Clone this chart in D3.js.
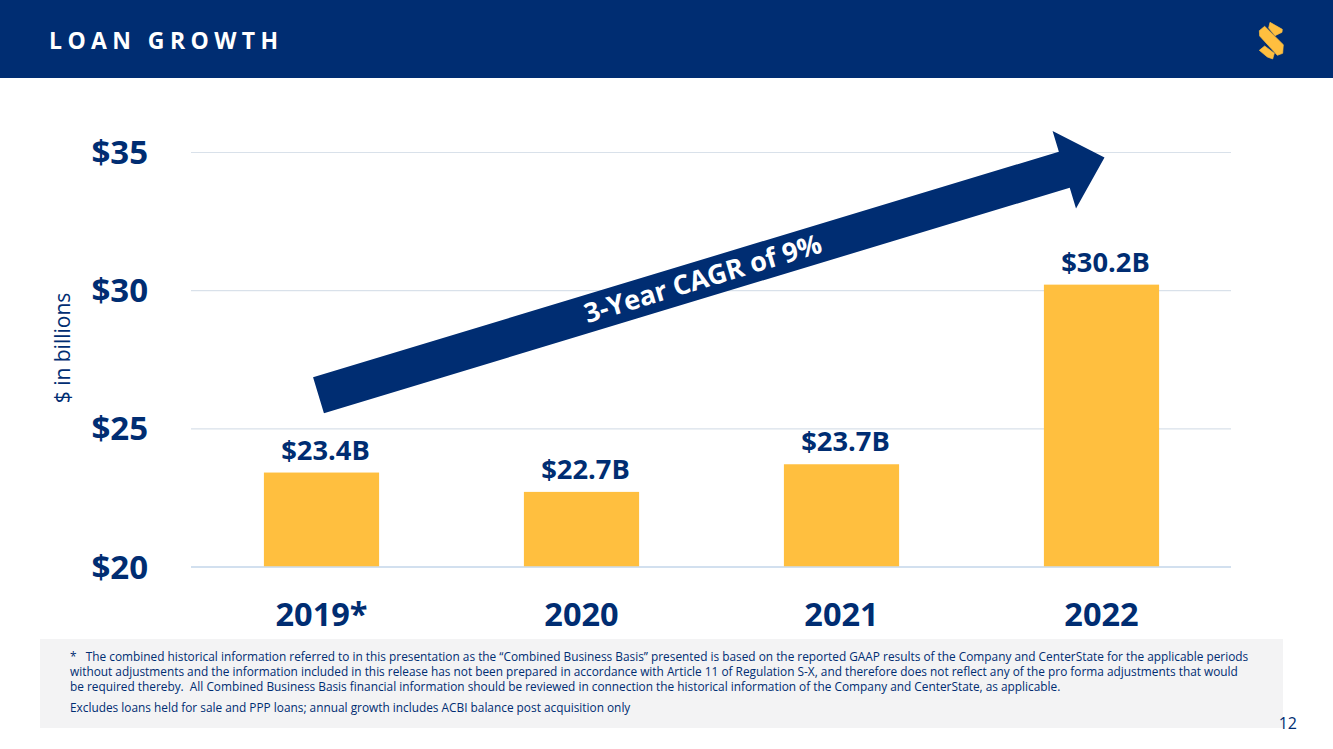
<!DOCTYPE html>
<html>
<head>
<meta charset="utf-8">
<script src="https://cdn.jsdelivr.net/npm/d3@7"></script>
<style>
  body { margin: 0; background: #fff; }
  svg { display: block; font-family: "Open Sans", sans-serif; }
  text { white-space: pre; }
</style>
</head>
<body>
<svg id="chart" width="1333" height="749"></svg>
<script>
// chart data
const categories = ["2019*", "2020", "2021", "2022"];
const loanValues = [23.4, 22.7, 23.7, 30.2];
const valueLabels = ["$23.4B", "$22.7B", "$23.7B", "$30.2B"];
const yTicks = [20, 25, 30, 35];
const footnotes = [
  "*   The combined historical information referred to in this presentation as the \u201CCombined Business Basis\u201D presented is based on the reported GAAP results of the Company and CenterState for the applicable periods",
  "without adjustments and the information included in this release has not been prepared in accordance with Article 11 of Regulation S-X, and therefore does not reflect any of the pro forma adjustments that would",
  "be required thereby.  All Combined Business Basis financial information should be reviewed in connection the historical information of the Company and CenterState, as applicable.",
  "Excludes loans held for sale and PPP loans; annual growth includes ACBI balance post acquisition only"
];

const navy = "#002d72";
const gold = "#ffbf3f";
const svg = d3.select("#chart");

// header band
svg.append("rect").attr("width", 1333).attr("height", 78).attr("fill", navy);
svg.append("text").attr("x", 49).attr("y", 48.5)
  .attr("fill", "#fff").attr("font-size", 23).attr("font-weight", 700)
  .attr("letter-spacing", 5.4).text("LOAN GROWTH");

// logo, three rounded pieces
const logo = svg.append("g").attr("transform", "translate(1220,0) scale(0.3333)")
  .attr("fill", gold).attr("stroke", gold).attr("stroke-width", 2).attr("stroke-linejoin", "round");
logo.append("path").attr("d", "M150,67 L187,88 L186,97 L165,107 L146,84 Z");
logo.append("path").attr("d", "M118,92 L134,79 L190,134 L188,160 L172,166 L119,108 Z");
logo.append("path").attr("d", "M118,151 L134,138 L163,160 L158,177 L142,171 Z");

// scales
const x = d3.scaleBand().domain(categories).range([191.5, 1231.5]).paddingInner(0.557).paddingOuter(0.2785);
const y = d3.scaleLinear().domain([20, 35]).range([566.5, 152]);

// y axis + gridlines
const yAxis = d3.axisLeft(y).tickValues(yTicks).tickFormat(d => "$" + d).tickSize(-1040).tickPadding(43);
const yG = svg.append("g").attr("transform", "translate(191,0)").call(yAxis);
yG.select(".domain").remove();
yG.selectAll(".tick line").attr("stroke", d => d === 20 ? "#c3d5ea" : "#d9e1ea").attr("stroke-width", 1.2);
yG.selectAll(".tick text").attr("fill", navy).attr("font-size", 33).attr("font-weight", 700)
  .attr("dy", "0.35em").attr("font-family", '"Open Sans", sans-serif');

// bars
svg.selectAll("rect.bar").data(loanValues).enter().append("rect")
  .attr("class", "bar")
  .attr("x", (d, i) => x(categories[i]))
  .attr("width", x.bandwidth())
  .attr("y", d => y(d))
  .attr("height", d => y(20) - y(d))
  .attr("fill", gold);

// baseline sits on top of the bars
svg.append("line").attr("x1", 191).attr("x2", 1231).attr("y1", y(20) + 0.5).attr("y2", y(20) + 0.5)
  .attr("stroke", "#c3d5ea").attr("stroke-width", 1.2);

// value labels, set a little right of the bar centres as in the original
svg.selectAll("text.val").data(loanValues).enter().append("text")
  .attr("class", "val")
  .attr("x", (d, i) => x(categories[i]) + x.bandwidth() / 2 + 4)
  .attr("y", d => y(d) - 13)
  .attr("text-anchor", "middle").attr("fill", navy)
  .attr("font-size", 27.3).attr("font-weight", 700)
  .text((d, i) => valueLabels[i]);

// x axis
const xAxis = d3.axisBottom(x).tickSize(0).tickPadding(36);
const xG = svg.append("g").attr("transform", "translate(0,566.5)").call(xAxis);
xG.select(".domain").remove();
xG.selectAll(".tick text").attr("fill", navy).attr("font-size", 32.5).attr("font-weight", 700)
  .attr("font-family", '"Open Sans", sans-serif');

// y axis title
svg.append("text").attr("transform", "translate(70,348) rotate(-90)")
  .attr("text-anchor", "middle").attr("fill", navy).attr("font-size", 21).text("$ in billions");

// growth arrow, anchored on the scales
const arrowFrom = [x("2019*") + x.bandwidth() / 2 - 3, y(26.2)];
const arrowTo = [x("2022") + x.bandwidth() / 2 + 3, y(34.8)];
const arrowLen = Math.hypot(arrowTo[0] - arrowFrom[0], arrowTo[1] - arrowFrom[1]);
const arrowAngle = Math.atan2(arrowTo[1] - arrowFrom[1], arrowTo[0] - arrowFrom[0]) * 180 / Math.PI;
const arrow = svg.append("g")
  .attr("transform", `translate(${arrowFrom[0]},${arrowFrom[1]}) rotate(${arrowAngle})`);
arrow.append("path").attr("fill", navy).attr("d", d3.line()([
  [0, -18.8], [arrowLen - 42, -18.8], [arrowLen - 42, -40.5], [arrowLen, 0],
  [arrowLen - 42, 40.5], [arrowLen - 42, 18.8], [0, 18.8]
]) + "Z");
arrow.append("text").attr("x", arrowLen * 0.5 - 9).attr("y", 9)
  .attr("text-anchor", "middle").attr("fill", "#fff")
  .attr("font-size", 27).attr("font-weight", 700).text("3-Year CAGR of 9%");

// footnote panel
svg.append("rect").attr("x", 40).attr("y", 639).attr("width", 1243).attr("height", 89).attr("fill", "#f3f3f4");
const noteY = [661, 676, 691, 712];
svg.selectAll("text.note").data(footnotes).enter().append("text")
  .attr("class", "note").attr("x", 70).attr("y", (d, i) => noteY[i])
  .attr("fill", navy).attr("font-size", 11.85).text(d => d);

// page number
svg.append("text").attr("x", 1297).attr("y", 729).attr("text-anchor", "end")
  .attr("fill", navy).attr("font-size", 16).text("12");
</script>
</body>
</html>
